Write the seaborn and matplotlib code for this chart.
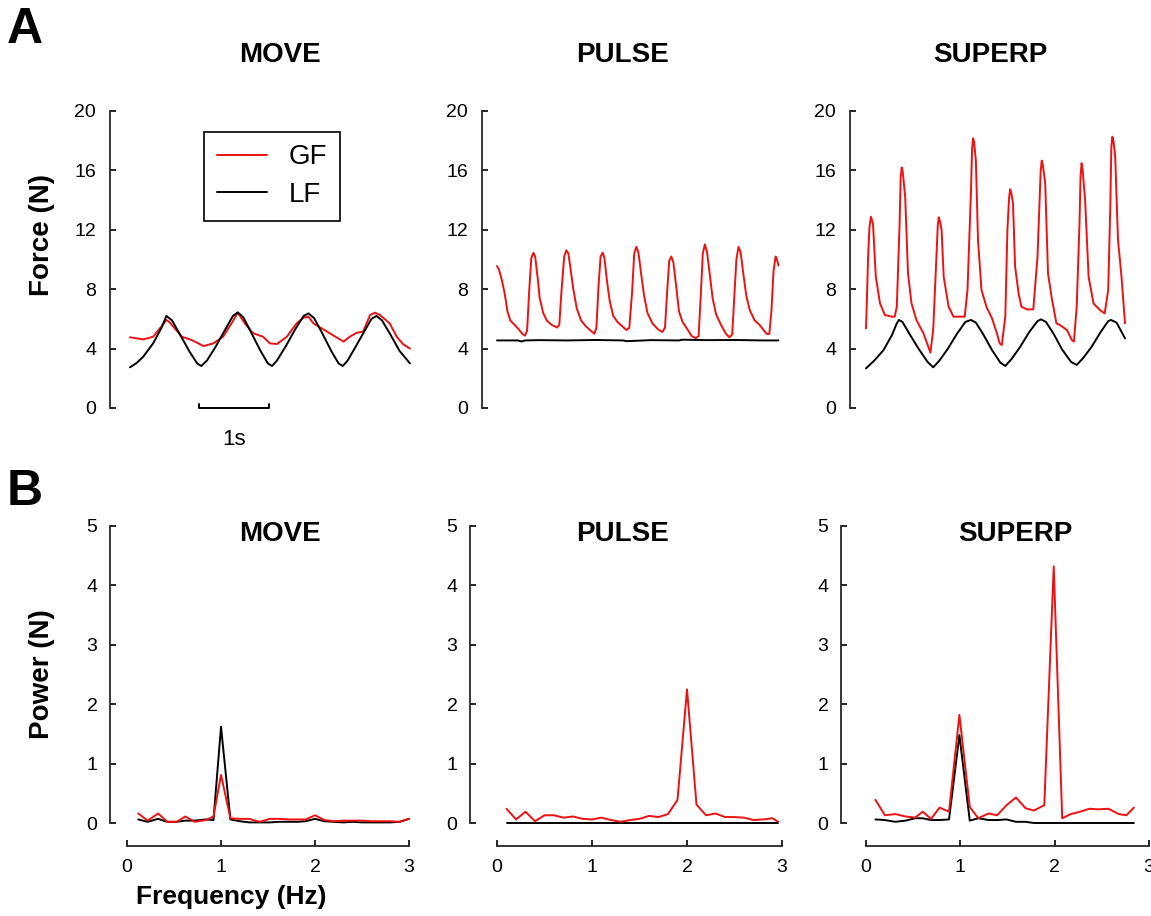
import numpy as np
import pandas as pd
import matplotlib
matplotlib.use("Agg")
import matplotlib.pyplot as plt
import seaborn as sns

sns.set_style("ticks")
plt.rcParams['font.family'] = ['Liberation Sans', 'DejaVu Sans']
plt.rcParams['text.color'] = 'black'
plt.rcParams['axes.labelcolor'] = 'black'

# ---- data ----
# A: force traces (time in s, force in N)
move_t_lf = [0.0, 0.1, 0.19, 0.33, 0.45, 0.52, 0.6, 0.72, 0.85, 0.96,
             1.02, 1.1, 1.22, 1.35, 1.47, 1.54, 1.62, 1.74, 1.87, 1.97,
             2.03, 2.1, 2.23, 2.36, 2.48, 2.55, 2.63, 2.75, 2.88, 2.98,
             3.04, 3.11, 3.22, 3.34, 3.45, 3.52, 3.6, 3.72, 3.85, 4.0]
move_lf = [2.74, 3.05, 3.46, 4.35, 5.4, 6.2, 5.9, 4.9, 3.8, 3.0,
           2.83, 3.2, 4.1, 5.2, 6.2, 6.44, 6.1, 5.0, 3.8, 3.0,
           2.83, 3.2, 4.2, 5.3, 6.2, 6.37, 6.05, 5.0, 3.8, 3.0,
           2.83, 3.2, 4.1, 5.1, 6.0, 6.2, 5.9, 4.95, 3.85, 3.0]
move_t_gf = [0.0, 0.19, 0.33, 0.45, 0.52, 0.57, 0.74, 0.88, 1.05, 1.19,
             1.33, 1.45, 1.54, 1.64, 1.76, 1.9, 2.0, 2.1, 2.24, 2.38,
             2.48, 2.55, 2.62, 2.76, 2.9, 3.05, 3.14, 3.24, 3.33, 3.43,
             3.5, 3.57, 3.71, 3.81, 3.9, 4.0]
move_gf = [4.76, 4.62, 4.8, 5.5, 5.93, 5.75, 4.8, 4.58, 4.17, 4.35,
           4.8, 5.7, 6.42, 5.7, 5.03, 4.8, 4.35, 4.31, 4.8, 5.7,
           6.08, 6.15, 5.7, 5.3, 4.9, 4.47, 4.8, 5.07, 5.14, 6.26,
           6.42, 6.26, 5.7, 4.8, 4.3, 4.0]

pulse_t_lf = [0.0, 0.3, 0.35, 0.4, 0.6, 1.0, 1.4, 1.8, 1.85, 2.2, 2.6, 2.65, 3.0, 3.4, 3.8, 4.02]
pulse_lf = [4.55, 4.55, 4.48, 4.55, 4.57, 4.55, 4.58, 4.55, 4.5, 4.57, 4.55, 4.6, 4.57, 4.58, 4.55, 4.55]
pulse_t_gf = [0.0, 0.03, 0.07, 0.11, 0.15, 0.19, 0.25, 0.31, 0.36, 0.4,
              0.43, 0.46, 0.49, 0.52, 0.545, 0.58, 0.61, 0.66, 0.71, 0.78,
              0.86, 0.89, 0.92, 0.96, 0.99, 1.02, 1.05, 1.09, 1.14, 1.2,
              1.27, 1.34, 1.39, 1.42, 1.45, 1.48, 1.51, 1.535, 1.57, 1.61,
              1.66, 1.72, 1.79, 1.85, 1.89, 1.93, 1.96, 1.99, 2.02, 2.06,
              2.1, 2.15, 2.22, 2.3, 2.36, 2.4, 2.43, 2.46, 2.49, 2.52,
              2.56, 2.6, 2.65, 2.72, 2.78, 2.84, 2.88, 2.91, 2.94, 2.97,
              3.0, 3.04, 3.08, 3.13, 3.2, 3.27, 3.32, 3.36, 3.39, 3.42,
              3.45, 3.48, 3.52, 3.56, 3.61, 3.68, 3.75, 3.8, 3.85, 3.89,
              3.92, 3.95, 3.98, 4.0, 4.02]
pulse_gf = [9.56, 9.3, 8.6, 7.7, 6.5, 5.9, 5.6, 5.3, 5.0, 4.87,
            5.2, 7.9, 10.1, 10.45, 10.2, 8.8, 7.4, 6.4, 5.9, 5.6,
            5.42, 5.6, 7.8, 10.2, 10.62, 10.4, 9.4, 8.0, 6.7, 5.9,
            5.5, 5.2, 5.0, 5.4, 8.2, 10.2, 10.46, 10.1, 8.6, 7.2,
            6.2, 5.8, 5.5, 5.25, 5.4, 7.8, 10.4, 10.85, 10.5, 9.0,
            7.6, 6.4, 5.7, 5.3, 5.12, 5.4, 7.8, 9.9, 10.2, 9.8,
            8.2, 6.5, 5.8, 5.3, 4.85, 4.7, 4.85, 7.5, 10.4, 11.02,
            10.5, 9.0, 7.4, 6.3, 5.6, 5.0, 4.76, 4.95, 7.5, 10.0,
            10.85, 10.5, 9.0, 7.6, 6.6, 5.9, 5.6, 5.3, 5.0, 4.98,
            6.5, 9.2, 10.2, 10.0, 9.6]

superp_t_lf = [0.0, 0.12, 0.25, 0.37, 0.44, 0.47, 0.52, 0.62, 0.75, 0.88,
               0.96, 1.05, 1.17, 1.3, 1.42, 1.5, 1.57, 1.67, 1.8, 1.92,
               1.99, 2.08, 2.2, 2.33, 2.45, 2.5, 2.57, 2.68, 2.8, 2.93,
               3.01, 3.1, 3.22, 3.35, 3.46, 3.5, 3.58, 3.7]
superp_lf = [2.67, 3.2, 3.9, 4.9, 5.7, 5.93, 5.8, 5.0, 4.0, 3.1,
             2.74, 3.2, 4.0, 5.0, 5.8, 5.93, 5.75, 5.0, 3.9, 3.05,
             2.83, 3.3, 4.1, 5.1, 5.85, 5.97, 5.8, 5.0, 3.95, 3.1,
             2.9, 3.35, 4.1, 5.1, 5.85, 5.93, 5.75, 4.69]
superp_t_gf = [0.0, 0.01, 0.03, 0.05, 0.07, 0.1, 0.14, 0.2, 0.27, 0.37,
               0.41, 0.44, 0.48, 0.495, 0.51, 0.525, 0.56, 0.6, 0.65, 0.72,
               0.82, 0.89, 0.92, 0.96, 1.01, 1.025, 1.04, 1.055, 1.08, 1.11,
               1.18, 1.25, 1.32, 1.41, 1.45, 1.5, 1.515, 1.53, 1.545, 1.57,
               1.6, 1.65, 1.72, 1.8, 1.87, 1.91, 1.94, 1.99, 2.02, 2.045,
               2.06, 2.075, 2.1, 2.13, 2.18, 2.22, 2.3, 2.39, 2.45, 2.495,
               2.51, 2.525, 2.56, 2.6, 2.65, 2.72, 2.77, 2.87, 2.94, 2.97,
               3.01, 3.05, 3.065, 3.08, 3.095, 3.13, 3.18, 3.25, 3.34, 3.41,
               3.46, 3.49, 3.505, 3.52, 3.535, 3.56, 3.6, 3.65, 3.7]
superp_gf = [5.36, 6.82, 10.19, 12.2, 12.88, 12.4, 8.84, 7.05, 6.26, 6.15,
             6.15, 6.82, 12.4, 15.5, 16.2, 15.9, 14.2, 9.07, 7.05, 5.93,
             5.03, 4.13, 3.73, 5.25, 10.64, 12.3, 12.84, 12.6, 11.99, 8.84,
             6.82, 6.15, 6.15, 6.15, 7.95, 14.68, 17.4, 18.16, 17.9, 16.6,
             11.31, 7.95, 6.82, 6.04, 5.03, 4.35, 4.24, 6.15, 11.99, 14.2,
             14.73, 14.5, 13.78, 9.52, 7.72, 6.82, 6.64, 6.64, 10.19, 15.9,
             16.66, 16.4, 15.13, 9.07, 7.5, 5.7, 5.59, 5.25, 4.58, 4.47,
             6.82, 12.43, 15.6, 16.48, 16.0, 14.01, 8.84, 7.05, 6.6, 6.37,
             7.95, 13.56, 17.6, 18.27, 18.0, 16.92, 11.31, 8.84, 5.7]

# B: power spectra (frequency in Hz, power in N)
move_freq = [0.12, 0.22, 0.33, 0.43, 0.53, 0.62, 0.72, 0.84, 0.92, 1.0,
             1.1, 1.2, 1.3, 1.41, 1.52, 1.62, 1.72, 1.82, 1.9, 2.0,
             2.1, 2.2, 2.3, 2.4, 2.5, 2.6, 2.7, 2.8, 2.9, 3.0]
move_gf_pow = [0.16, 0.04, 0.16, 0.02, 0.02, 0.11, 0.02, 0.05, 0.11, 0.81,
               0.08, 0.07, 0.07, 0.02, 0.07, 0.07, 0.06, 0.06, 0.06, 0.13,
               0.05, 0.03, 0.04, 0.04, 0.04, 0.03, 0.03, 0.03, 0.02, 0.07]
move_lf_pow = [0.06, 0.02, 0.07, 0.02, 0.02, 0.04, 0.04, 0.06, 0.05, 1.62,
               0.06, 0.03, 0.01, 0.01, 0.01, 0.02, 0.02, 0.02, 0.03, 0.07,
               0.03, 0.02, 0.01, 0.02, 0.01, 0.01, 0.01, 0.01, 0.02, 0.07]

pulse_freq = [0.1, 0.2, 0.3, 0.4, 0.5, 0.6, 0.7, 0.8, 0.9, 1.0,
              1.1, 1.2, 1.3, 1.4, 1.5, 1.6, 1.7, 1.8, 1.9, 2.0,
              2.1, 2.2, 2.3, 2.4, 2.5, 2.6, 2.7, 2.8, 2.9, 2.96]
pulse_gf_pow = [0.24, 0.06, 0.19, 0.03, 0.13, 0.13, 0.09, 0.11, 0.07, 0.06,
                0.09, 0.05, 0.02, 0.05, 0.07, 0.12, 0.1, 0.15, 0.39, 2.25,
                0.31, 0.13, 0.16, 0.1, 0.1, 0.09, 0.05, 0.06, 0.08, 0.02]
pulse_lf_pow = [0.0, 0.0, 0.0, 0.0, 0.0, 0.0, 0.0, 0.0, 0.0, 0.0,
                0.0, 0.0, 0.0, 0.0, 0.0, 0.0, 0.0, 0.0, 0.0, 0.0,
                0.0, 0.0, 0.0, 0.0, 0.0, 0.0, 0.0, 0.0, 0.0, 0.0]

superp_freq = [0.1, 0.2, 0.31, 0.42, 0.52, 0.6, 0.69, 0.78, 0.88, 0.99,
               1.1, 1.19, 1.3, 1.39, 1.49, 1.59, 1.69, 1.78, 1.89, 1.99,
               2.08, 2.17, 2.27, 2.37, 2.46, 2.57, 2.68, 2.76, 2.84]
superp_gf_pow = [0.39, 0.13, 0.15, 0.11, 0.09, 0.19, 0.07, 0.26, 0.19, 1.82,
                 0.27, 0.08, 0.16, 0.13, 0.3, 0.43, 0.25, 0.21, 0.3, 4.32,
                 0.08, 0.15, 0.19, 0.24, 0.23, 0.24, 0.15, 0.13, 0.26]
superp_lf_pow = [0.06, 0.05, 0.02, 0.04, 0.08, 0.08, 0.05, 0.05, 0.06, 1.48,
                 0.04, 0.08, 0.05, 0.05, 0.06, 0.02, 0.02, 0.0, 0.0, 0.0,
                 0.0, 0.0, 0.0, 0.0, 0.0, 0.0, 0.0, 0.0, 0.0]

conditions = ["MOVE", "PULSE", "SUPERP"]
force_ticks = [0, 4, 8, 12, 16, 20]
power_ticks = [0, 1, 2, 3, 4, 5]
freq_ticks = [0, 1, 2, 3]

RED = "#ee1111"
W, H = 1151, 916
fig = plt.figure(figsize=(W / 100, H / 100), dpi=100)


def px_axes(x0, x1, y0, y1):
    # axes placed by pixel box (x0 left, x1 right, y0 top, y1 bottom)
    return fig.add_axes([x0 / W, 1 - y1 / H, (x1 - x0) / W, (y1 - y0) / H])


def trace(ax, x, y, color):
    sns.lineplot(x=x, y=y, ax=ax, color=color, lw=1.4, estimator=None,
                 sort=False, legend=False, clip_on=False,
                 solid_joinstyle="round")


tick_kw = dict(direction="in", length=4, width=1.2, labelsize=14, colors="black")

# ---- top row: force traces ----
top_boxes = [(110, 412, 130), (482, 782, 497), (850, 1130, 866)]  # left, right, t=0 pixel
top_data = [(move_t_gf, move_gf, move_t_lf, move_lf),
            (pulse_t_gf, pulse_gf, pulse_t_lf, pulse_lf),
            (superp_t_gf, superp_gf, superp_t_lf, superp_lf)]
top_axes = []
for (x0, x1, t0px), (tg, g, tl, l) in zip(top_boxes, top_data):
    ax = px_axes(x0, x1, 111, 408)
    trace(ax, tg, g, RED)
    trace(ax, tl, l, "black")
    ax.set_xlim((x0 - t0px) / 70, (x1 - t0px) / 70)
    ax.set_ylim(0, 20)
    ax.set_yticks(force_ticks)
    ax.set_xticks([])
    for s in ["top", "right", "bottom"]:
        ax.spines[s].set_visible(False)
    ax.spines["left"].set_linewidth(1.3)
    ax.tick_params(axis="y", pad=10, **tick_kw)
    ax.set_xlabel("")
    ax.set_ylabel("")
    top_axes.append(ax)

# legend and time scale bar in MOVE panel
ax = top_axes[0]
leg = ax.legend(ax.lines[:2], ["GF", "LF"], loc="upper left",
                bbox_to_anchor=(204 / W, 1 - 132 / H), bbox_transform=fig.transFigure,
                fontsize=20, frameon=True, fancybox=False, edgecolor="black",
                framealpha=1, handlelength=1.8, handletextpad=0.8,
                labelspacing=0.42, borderpad=0.45, borderaxespad=0)
leg.get_frame().set_linewidth(1.2)
bar_start, bar_len = 0.99, 1.0
ax.plot([bar_start, bar_start, bar_start + bar_len, bar_start + bar_len],
        [0.25, 0, 0, 0.25], color="black", lw=1.4, clip_on=False)
ax.text(bar_start + bar_len / 2, -2.1, "1s", ha="center", va="center", fontsize=16)

# ---- bottom row: power spectra ----
bot_boxes = [(127, 409, 17), (497, 782, 27), (866, 1149, 25)]  # left, right, y-spine offset px
bot_data = [(move_freq, move_gf_pow, move_lf_pow),
            (pulse_freq, pulse_gf_pow, pulse_lf_pow),
            (superp_freq, superp_gf_pow, superp_lf_pow)]
for (x0, x1, off), (f, g, l) in zip(bot_boxes, bot_data):
    ax = px_axes(x0, x1, 526, 823)
    trace(ax, f, l, "black")
    trace(ax, f, g, RED)
    ax.set_xlim(0, 3)
    ax.set_ylim(0, 5)
    ax.set_xticks(freq_ticks)
    ax.set_yticks(power_ticks)
    sns.despine(ax=ax, offset=dict(left=off * 0.72, bottom=23 * 0.72))
    ax.spines["left"].set_linewidth(1.3)
    ax.spines["bottom"].set_linewidth(1.3)
    ax.tick_params(axis="both", pad=9, **tick_kw)
    ax.set_xlabel("")
    ax.set_ylabel("")

# ---- text ----
for name, x in zip(conditions, [280, 622, 990]):
    fig.text(x / W, 1 - 55 / H, name, ha="center", va="center", fontsize=20, fontweight="bold")
for name, x in zip(conditions, [280, 622, 1015]):
    fig.text(x / W, 1 - 534 / H, name, ha="center", va="center", fontsize=20, fontweight="bold")

fig.text(25 / W, 1 - 30 / H, "A", ha="center", va="center", fontsize=36, fontweight="bold")
fig.text(25 / W, 1 - 492 / H, "B", ha="center", va="center", fontsize=36, fontweight="bold")
fig.text(42 / W, 1 - 235 / H, "Force (N)", ha="center", va="center", rotation=90,
         fontsize=20, fontweight="bold")
fig.text(42 / W, 1 - 674 / H, "Power (N)", ha="center", va="center", rotation=90,
         fontsize=20, fontweight="bold")
fig.text(231 / W, 1 - 897 / H, "Frequency (Hz)", ha="center", va="center",
         fontsize=19, fontweight="bold")

fig.savefig("out.png", dpi=100, facecolor="white")
